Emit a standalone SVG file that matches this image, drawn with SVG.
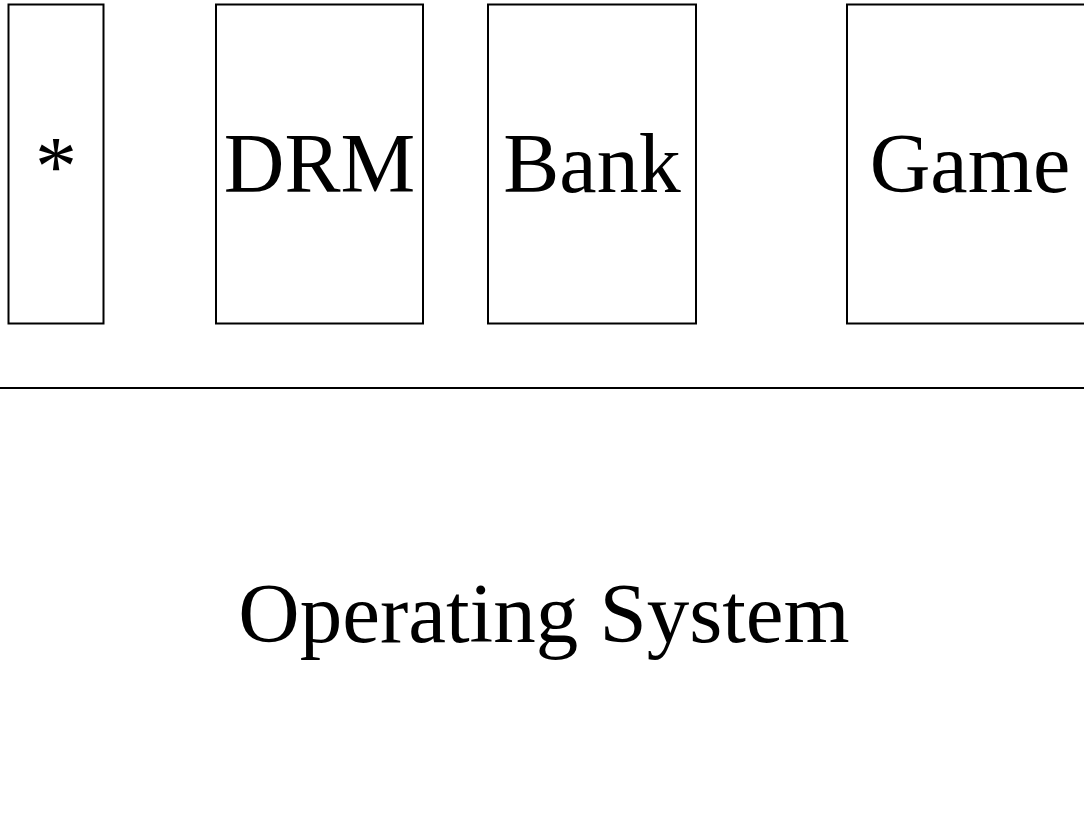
<svg xmlns="http://www.w3.org/2000/svg" width="1084" height="833" viewBox="0 0 1084 833">
<style>
.box{fill:#fff;stroke:#000;stroke-width:2}
.lbl{font-family:"Liberation Serif","Times New Roman",serif;font-size:84px;text-anchor:middle;fill:#000}
.os{font-size:85px}
</style>
<rect width="1084" height="833" fill="#fff"/>
<g id="node-star"><rect class="box" x="8.5" y="4.5" width="95" height="319"/><text class="lbl" x="56" y="195">*</text></g>
<g id="node-drm"><rect class="box" x="216" y="4.5" width="207" height="319"/><text class="lbl" x="319.5" y="192">DRM</text></g>
<g id="node-bank"><rect class="box" x="488" y="4.5" width="208" height="319"/><text class="lbl" x="592" y="192">Bank</text></g>
<g id="node-game"><rect class="box" x="847" y="4.5" width="246" height="319"/><text class="lbl" x="970" y="192">Game</text></g>
<g id="connectors"><line x1="0" y1="388" x2="1084" y2="388" stroke="#000" stroke-width="2"/></g>
<g id="node-os"><text class="lbl os" x="544" y="642">Operating System</text></g>
</svg>
